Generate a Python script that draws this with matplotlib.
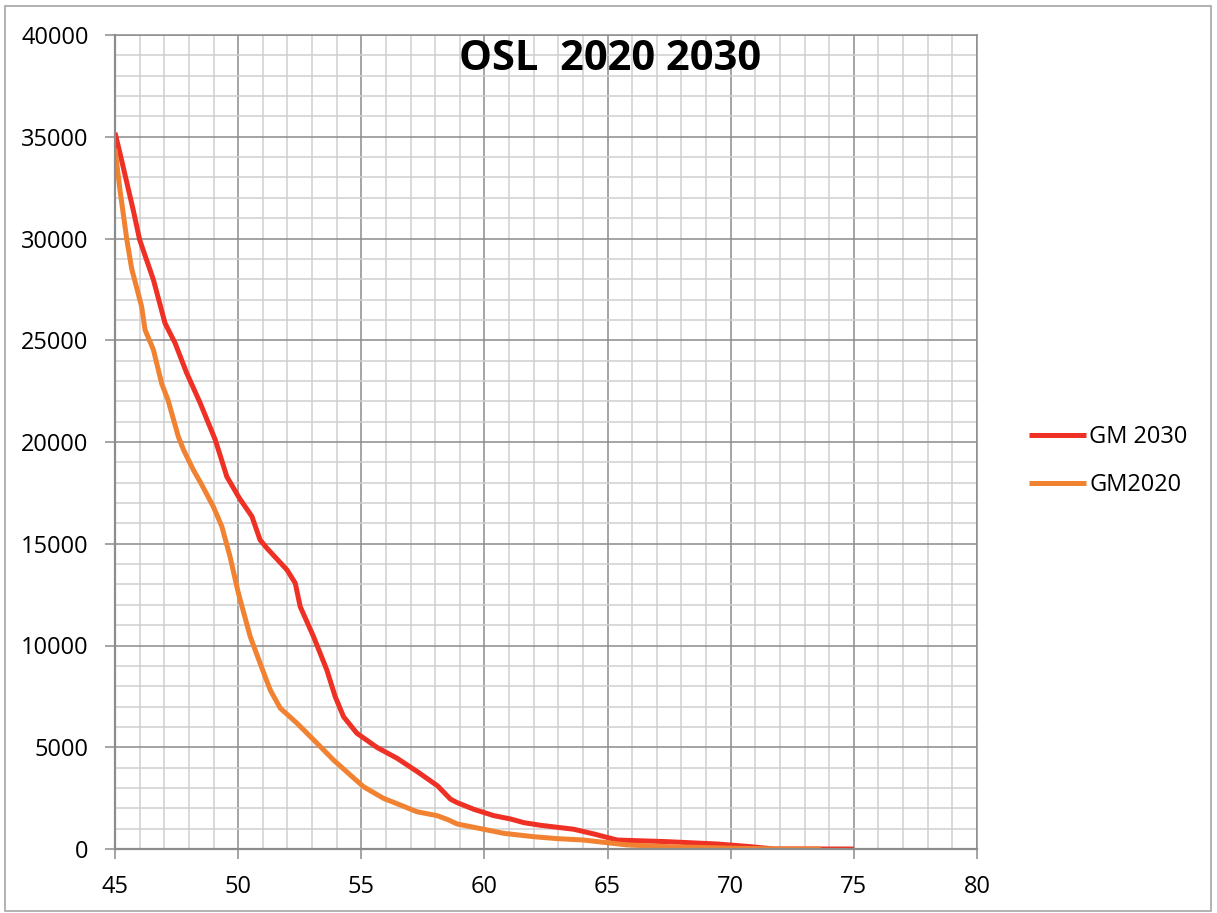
import matplotlib.pyplot as plt
from matplotlib.patches import Rectangle
from matplotlib.ticker import MultipleLocator
import numpy as np

# Data
x_2030 = [45.0, 45.2, 45.74, 46.0, 46.56, 47.03, 47.44, 47.91, 48.46, 49.07,
          49.54, 50.05, 50.56, 50.89, 51.17, 51.98, 52.32, 52.52, 53.06, 53.6,
          53.94, 54.28, 54.82, 55.64, 56.45, 57.3, 58.1, 58.62, 58.89, 59.57,
          60.38, 61.06, 61.6, 62.28, 63.63, 64.44, 65.39, 67.43, 69.46, 70.8,
          71.76, 75.0]
y_2030 = [35200, 34200, 31400, 29940, 27970, 25840, 24860, 23390, 21910, 20110,
          18300, 17240, 16340, 15190, 14780, 13720, 13060, 11910, 10440, 8800,
          7490, 6500, 5690, 4990, 4460, 3780, 3100, 2450, 2280, 1950,
          1640, 1475, 1295, 1165, 970, 740, 440, 360, 245, 115,
          0, 0]

x_2020 = [45.0, 45.2, 45.48, 45.68, 46.08, 46.22, 46.56, 46.9, 47.15, 47.57,
          47.78, 48.18, 48.5, 48.99, 49.34, 49.67, 50.01, 50.49, 50.89, 51.3,
          51.71, 52.39, 53.2, 53.87, 54.55, 55.09, 55.9, 56.59, 57.26, 58.08,
          58.55, 58.89, 59.97, 60.78, 62.0, 62.95, 64.04, 64.72, 65.8, 67.43,
          70.14, 72.17, 73.66]
y_2020 = [34400, 32400, 29940, 28500, 26660, 25510, 24530, 22850, 22070, 20270,
          19620, 18630, 17950, 16830, 15840, 14370, 12570, 10440, 9130, 7820,
          6920, 6180, 5200, 4375, 3640, 3060, 2490, 2160, 1830, 1640,
          1425, 1230, 970, 770, 605, 510, 440, 345, 200, 115,
          35, 0, 0]

plt.rcParams.update({'font.family': 'Open Sans', 'font.size': 17})

fig = plt.figure(figsize=(12.17, 9.13), dpi=100)
ax = fig.add_axes([115/1217, 1-849/913, (977-115)/1217, (849-35)/913])

# chart area frame
fig.patches.append(Rectangle((5/1217, 2/913), 1206/1217, 905/913, transform=fig.transFigure,
                             fill=False, edgecolor='#a6a6a6', linewidth=1.2))

ax.plot(x_2030, y_2030, color='#ee3124', linewidth=3.6, label='GM 2030',
        solid_capstyle='butt', solid_joinstyle='round')
ax.plot(x_2020, y_2020, color='#f08232', linewidth=3.6, label='GM2020',
        solid_capstyle='butt', solid_joinstyle='round')

ax.set_xlim(45, 80)
ax.set_ylim(0, 40000)
ax.xaxis.set_major_locator(MultipleLocator(5))
ax.xaxis.set_minor_locator(MultipleLocator(1))
ax.yaxis.set_major_locator(MultipleLocator(5000))
ax.yaxis.set_minor_locator(MultipleLocator(1000))
ax.grid(which='major', color='#8c8c8c', linewidth=1.1)
ax.grid(which='minor', color='#cfcfcf', linewidth=1.1)
ax.set_axisbelow(True)
ax.tick_params(which='major', direction='out', length=7, width=1.1, color='#8c8c8c',
               pad=12, labelsize=17)
ax.tick_params(which='minor', length=0)
for s in ax.spines.values():
    s.set_color('#8c8c8c')
    s.set_linewidth(1.1)
ax.spines['left'].set_linewidth(1.6)
ax.spines['bottom'].set_linewidth(1.6)

ax.text(0.5745, 0.995, 'OSL  2020 2030', transform=ax.transAxes, ha='center', va='top',
        fontsize=30, fontweight='bold')

fig.legend(loc='center left', bbox_to_anchor=(1008/1217, 1-461/913), frameon=False,
           handlelength=2.4, handletextpad=0.15, labelspacing=1.0, fontsize=17)

fig.savefig('out.png', dpi=100)
